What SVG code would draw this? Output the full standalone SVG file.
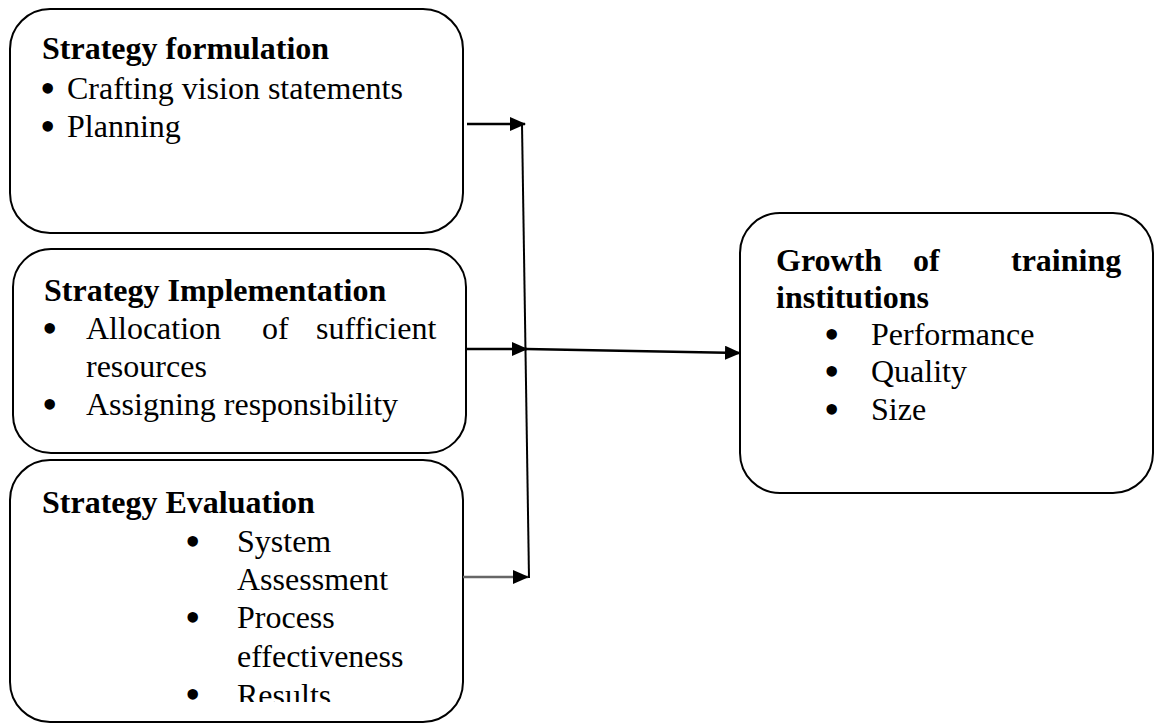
<svg xmlns="http://www.w3.org/2000/svg" width="1163" height="725" viewBox="0 0 1163 725">
<style>
.box{fill:#fff;stroke:#000;stroke-width:2}
text{font-family:"Liberation Serif","Times New Roman",serif;font-size:32px;fill:#000}
.h{font-weight:bold}
.b{font-size:44px}
.c{stroke:#000;stroke-width:2.5;fill:none}
</style>
<defs>
<marker id="ah" markerWidth="16" markerHeight="14" refX="15" refY="7" orient="auto" markerUnits="userSpaceOnUse">
<path d="M0,0 L16,7 L0,14 Z" fill="#000"/>
</marker>
<clipPath id="clip3"><rect x="200" y="455" width="280" height="247"/></clipPath>
</defs>
<rect width="1163" height="725" fill="#fff"/>
<g id="node-formulation">
<rect class="box" x="10" y="9" width="453" height="224" rx="40"/>
<text class="h" x="42" y="59">Strategy formulation</text>
<text x="40" y="103"><tspan class="b">•</tspan><tspan x="67" y="99">Crafting vision statements</tspan></text>
<text x="40" y="141"><tspan class="b">•</tspan><tspan x="67" y="137">Planning</tspan></text>
</g>
<g id="node-implementation">
<rect class="box" x="13" y="249" width="453" height="204" rx="38"/>
<text class="h" x="44" y="301">Strategy Implementation</text>
<text x="42" y="343"><tspan class="b">•</tspan><tspan x="86" y="339">Allocation</tspan><tspan x="262" y="339">of</tspan><tspan x="316" y="339">sufficient</tspan></text>
<text x="86" y="377">resources</text>
<text x="42" y="419"><tspan class="b">•</tspan><tspan x="86" y="415">Assigning responsibility</tspan></text>
</g>
<g id="node-evaluation">
<rect class="box" x="10" y="460" width="453" height="262" rx="40"/>
<text class="h" x="42" y="513">Strategy Evaluation</text>
<text x="185" y="556"><tspan class="b">•</tspan><tspan x="237" y="552">System</tspan></text>
<text x="237" y="590">Assessment</text>
<text x="185" y="632"><tspan class="b">•</tspan><tspan x="237" y="628">Process</tspan></text>
<text x="237" y="667">effectiveness</text>
<text class="b" x="185" y="709">•</text>
<text x="237" y="706" clip-path="url(#clip3)">Results</text>
</g>
<g id="node-growth">
<rect class="box" x="740" y="213" width="413" height="280" rx="40"/>
<text class="h" x="776" y="271">Growth<tspan x="913">of</tspan><tspan x="1011">training</tspan></text>
<text class="h" x="776" y="308">institutions</text>
<text x="824" y="349"><tspan class="b">•</tspan><tspan x="871" y="345">Performance</tspan></text>
<text x="824" y="386"><tspan class="b">•</tspan><tspan x="871" y="382">Quality</tspan></text>
<text x="824" y="424"><tspan class="b">•</tspan><tspan x="871" y="420">Size</tspan></text>
</g>
<g id="connectors">
<line class="c" x1="467" y1="124" x2="525" y2="124" marker-end="url(#ah)"/>
<line class="c" x1="522" y1="124" x2="529" y2="578" style="stroke-width:2"/>
<line class="c" x1="467" y1="349" x2="527" y2="349" marker-end="url(#ah)"/>
<line class="c" x1="526" y1="349" x2="740" y2="353" marker-end="url(#ah)"/>
<line class="c" x1="463" y1="577" x2="528" y2="577" style="stroke:#666" marker-end="url(#ah)"/>
</g>
</svg>
